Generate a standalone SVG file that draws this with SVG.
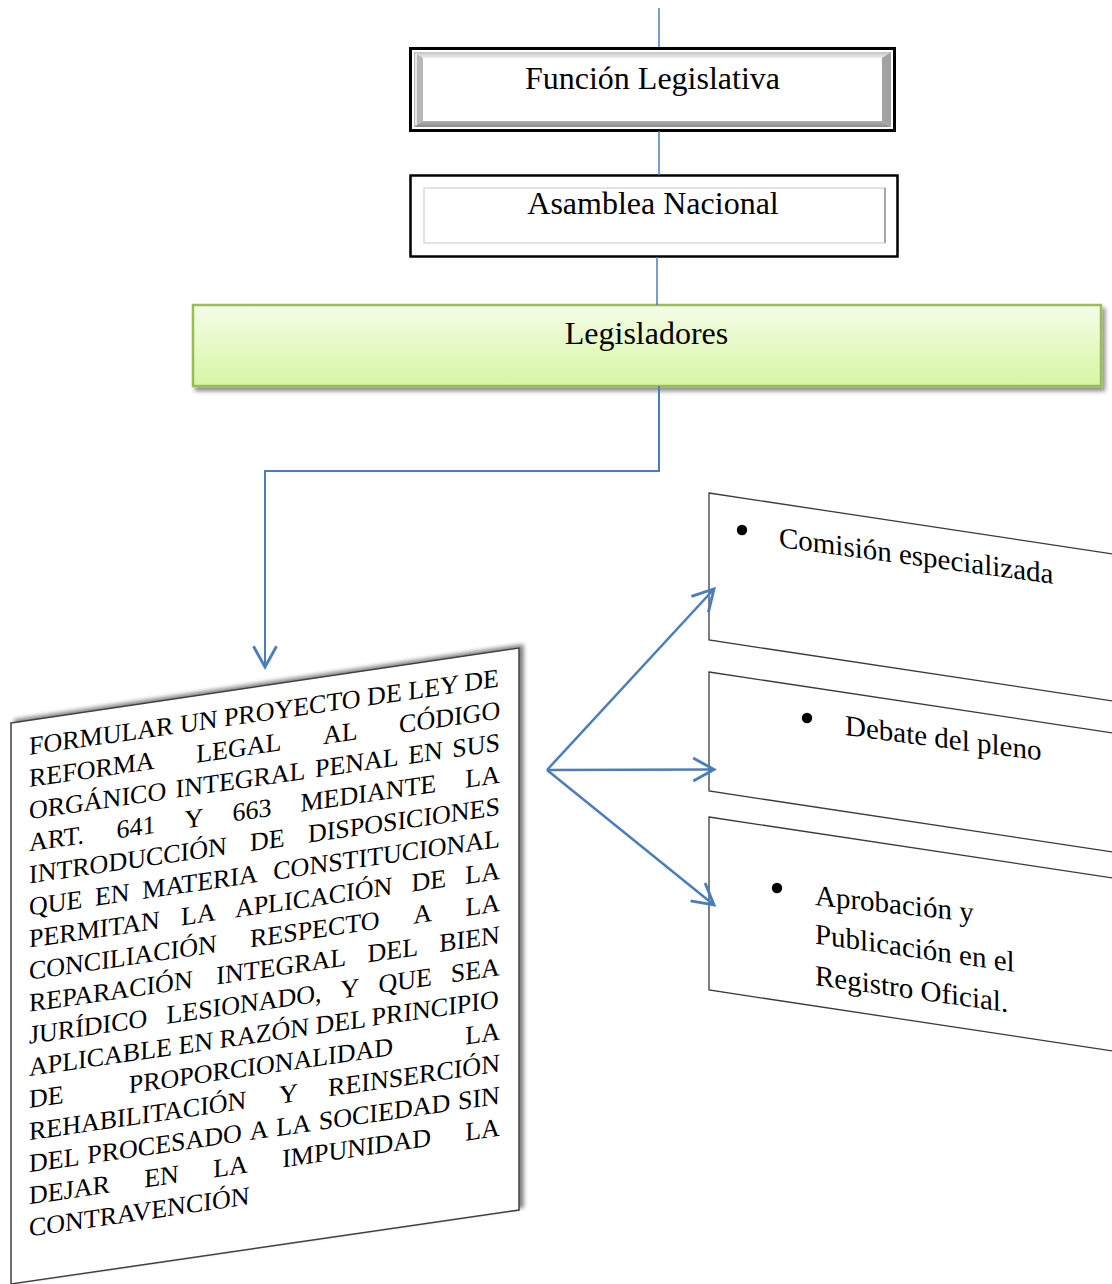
<svg xmlns="http://www.w3.org/2000/svg" width="1112" height="1284" viewBox="0 0 1112 1284">
<style>
.t{font-family:"Liberation Serif","Times New Roman",serif;fill:#000}
.top{font-size:32px;text-anchor:middle}
.body{font-size:26px}
.side{font-size:29px}
.con{fill:none;stroke:#4a7ebb}
.box{fill:#fff;stroke:#3a3a3a;stroke-width:1.3}
</style>
<defs>
<linearGradient id="green" x1="0" y1="0" x2="0" y2="1">
<stop offset="0" stop-color="#f5fde8"/>
<stop offset="1" stop-color="#d6f6a3"/>
</linearGradient>
<linearGradient id="bevTop" x1="0" y1="0" x2="0" y2="1">
<stop offset="0" stop-color="#c4c4c4"/>
<stop offset="1" stop-color="#ededed"/>
</linearGradient>
<linearGradient id="bevBot" x1="0" y1="0" x2="0" y2="1">
<stop offset="0" stop-color="#b0b0b0"/>
<stop offset="1" stop-color="#8a8a8a"/>
</linearGradient>
<filter id="sh1" x="-5%" y="-20%" width="110%" height="150%">
<feGaussianBlur in="SourceAlpha" stdDeviation="2"/>
<feOffset dx="3" dy="4" result="b"/>
<feComponentTransfer><feFuncA type="linear" slope="0.45"/></feComponentTransfer>
<feMerge><feMergeNode/><feMergeNode in="SourceGraphic"/></feMerge>
</filter>
<filter id="sh2" x="-10%" y="-10%" width="120%" height="120%">
<feGaussianBlur in="SourceAlpha" stdDeviation="2"/>
<feOffset dx="4" dy="-3" result="b"/>
<feComponentTransfer><feFuncA type="linear" slope="0.5"/></feComponentTransfer>
<feMerge><feMergeNode/><feMergeNode in="SourceGraphic"/></feMerge>
</filter>
<marker id="ah" markerUnits="userSpaceOnUse" markerWidth="30" markerHeight="30" viewBox="-22 -13 26 26" refX="0" refY="0" orient="auto">
<path d="M-18,-10 L0,0 L-18,10" fill="none" stroke="#4a7ebb" stroke-width="2.5" stroke-linejoin="miter"/>
</marker>
</defs>

<g id="funcion">
<rect x="410.5" y="48.5" width="484" height="82" fill="#fff" stroke="#000" stroke-width="3"/>
<polygon points="414,52 891,52 882,58 423,58" fill="url(#bevTop)"/>
<polygon points="414,52 423,58 423,121 414,127" fill="#b8b8b8"/>
<polygon points="891,52 891,127 882,121 882,58" fill="#a2a2a2"/>
<polygon points="414,127 423,121 882,121 891,127" fill="url(#bevBot)"/>
<line x1="416" y1="54" x2="416" y2="125" stroke="#e8e8e8" stroke-width="2"/>
<text class="t top" x="652.5" y="89">Función Legislativa</text>
</g>

<g id="asamblea">
<rect x="410.5" y="175.5" width="487" height="81" fill="#fff" stroke="#000" stroke-width="2.5"/>
<rect x="424" y="188" width="461" height="55" fill="none" stroke="#dadada" stroke-width="1.5"/>
<line x1="885" y1="188" x2="885" y2="243" stroke="#a8a8a8" stroke-width="2"/>
<text class="t top" x="653" y="214">Asamblea Nacional</text>
</g>

<g id="legisladores">
<rect x="193" y="305" width="908" height="81" fill="url(#green)" stroke="#9bbb59" stroke-width="2.5" filter="url(#sh1)"/>
<text class="t top" x="646.5" y="344">Legisladores</text>
</g>

<g id="propuesta">
<polygon points="11,723 519,648 519,1210 11,1284" fill="#fff" stroke="#404040" stroke-width="1.5" filter="url(#sh2)"/>
<g transform="matrix(1,-0.1457,0,1,0,0)" class="t body">
<text x="29" y="759.2">FORMULAR UN PROYECTO DE LEY DE</text>
<text y="791.3"><tspan x="29">REFORMA</tspan><tspan x="196.2">LEGAL</tspan><tspan x="322.9">AL</tspan><tspan x="399.1">CÓDIGO</tspan></text>
<text y="823.4"><tspan x="29">ORGÁNICO</tspan><tspan x="175.6">INTEGRAL</tspan><tspan x="315">PENAL</tspan><tspan x="408.2">EN</tspan><tspan x="452.3">SUS</tspan></text>
<text y="855.5"><tspan x="29">ART.</tspan><tspan x="116.6">641</tspan><tspan x="184.6">Y</tspan><tspan x="232.5">663</tspan><tspan x="300.5">MEDIANTE</tspan><tspan x="465.3">LA</tspan></text>
<text y="887.6"><tspan x="29">INTRODUCCIÓN</tspan><tspan x="250">DE</tspan><tspan x="307.9">DISPOSICIONES</tspan></text>
<text y="919.7"><tspan x="29">QUE</tspan><tspan x="95">EN</tspan><tspan x="142.3">MATERIA</tspan><tspan x="273.3">CONSTITUCIONAL</tspan></text>
<text y="951.8"><tspan x="29">PERMITAN</tspan><tspan x="181.1">LA</tspan><tspan x="234.9">APLICACIÓN</tspan><tspan x="411.5">DE</tspan><tspan x="465.3">LA</tspan></text>
<text y="983.9"><tspan x="29">CONCILIACIÓN</tspan><tspan x="250">RESPECTO</tspan><tspan x="413.3">A</tspan><tspan x="465.4">LA</tspan></text>
<text y="1016"><tspan x="29">REPARACIÓN</tspan><tspan x="216.3">INTEGRAL</tspan><tspan x="367.5">DEL</tspan><tspan x="439.2">BIEN</tspan></text>
<text y="1048.1"><tspan x="29">JURÍDICO</tspan><tspan x="166.4">LESIONADO,</tspan><tspan x="340.6">Y</tspan><tspan x="378.4">QUE</tspan><tspan x="450.8">SEA</tspan></text>
<text x="29" y="1080.2">APLICABLE EN RAZÓN DEL PRINCIPIO</text>
<text y="1112.3"><tspan x="29">DE</tspan><tspan x="128.8">PROPORCIONALIDAD</tspan><tspan x="465.3">LA</tspan></text>
<text y="1144.4"><tspan x="29">REHABILITACIÓN</tspan><tspan x="278.9">Y</tspan><tspan x="328.1">REINSERCIÓN</tspan></text>
<text y="1176.5"><tspan x="29">DEL</tspan><tspan x="87.3">PROCESADO</tspan><tspan x="249.7">A</tspan><tspan x="276.3">LA</tspan><tspan x="318.8">SOCIEDAD</tspan><tspan x="458">SIN</tspan></text>
<text y="1208.6"><tspan x="29">DEJAR</tspan><tspan x="144.2">EN</tspan><tspan x="213.2">LA</tspan><tspan x="282.2">IMPUNIDAD</tspan><tspan x="465.2">LA</tspan></text>
<text x="29" y="1240.7">CONTRAVENCIÓN</text>
</g>
</g>

<g id="comision">
<polygon class="box" points="709,493 1150,559.6 1150,706.6 709,640"/>
<circle cx="742" cy="530" r="5.2" fill="#000"/>
<text class="t side" transform="translate(779,547) skewY(7.63)" x="0" y="0">Comisión especializada</text>
</g>

<g id="debate">
<polygon class="box" points="709,672 1150,738.6 1150,857.6 709,791"/>
<circle cx="807" cy="718" r="5.2" fill="#000"/>
<text class="t side" transform="translate(845,735) skewY(7.4)" x="0" y="0">Debate del pleno</text>
</g>

<g id="aprobacion">
<polygon class="box" points="709,817 1150,883.6 1150,1056.6 709,990"/>
<circle cx="777" cy="888" r="5.2" fill="#000"/>
<text class="t side" transform="translate(815,905) skewY(6.1)" x="0" y="0">Aprobación y</text>
<text class="t side" transform="translate(815,943.5) skewY(8.1)" x="0" y="0">Publicación en el</text>
<text class="t side" transform="translate(815,985) skewY(8)" x="0" y="0">Registro Oficial.</text>
</g>

<g id="connectors">
<line class="con" x1="659" y1="8" x2="659" y2="47" stroke-width="1.5"/>
<line class="con" x1="659" y1="131" x2="659" y2="175" stroke-width="1.5"/>
<line class="con" x1="657" y1="257" x2="657" y2="305" stroke-width="1.5"/>
<polyline class="con" points="659,386 659,471 265,471 265,667" stroke-width="2" marker-end="url(#ah)"/>
<line class="con" x1="547" y1="770" x2="714" y2="589" stroke-width="2.5" marker-end="url(#ah)"/>
<line class="con" x1="547" y1="770" x2="714" y2="769.5" stroke-width="2.5" marker-end="url(#ah)"/>
<line class="con" x1="547" y1="770" x2="714" y2="905" stroke-width="2.5" marker-end="url(#ah)"/>
</g>
</svg>
